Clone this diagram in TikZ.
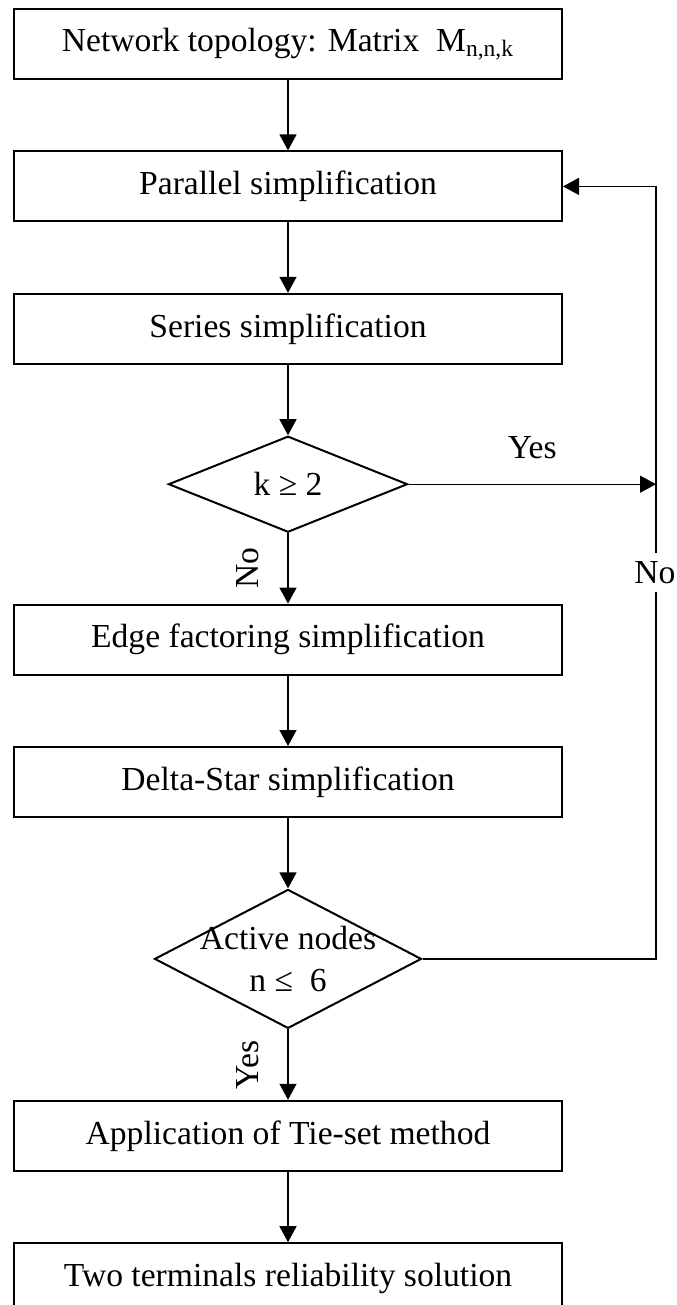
\documentclass[tikz,border=0pt]{standalone}
\usepackage{fontspec}
\setmainfont{Liberation Serif}
\usetikzlibrary{arrows.meta, positioning, shapes.geometric, calc}

\begin{document}
\begin{tikzpicture}[
    node distance=35.2pt,
    every node/.style={font=\fontsize{16.8}{21}\selectfont,align=center},
    proc/.style={draw,line width=1pt,minimum width=274pt,minimum height=35pt,inner sep=0pt},
    decide/.style={draw,diamond,line width=1pt,inner sep=0pt,aspect=2.5},
    flow/.style={line width=.65pt,-{Triangle[length=8pt,width=8.5pt]}}]
  \useasboundingbox (-144pt,22pt) rectangle (194pt,-630.5pt);
  \node[proc] (topo) {Network topology: Matrix\ \ M\textsubscript{n,n,k}};
  \node[proc,below=of topo] (par) {Parallel simplification};
  \node[proc,below=of par] (ser) {Series simplification};
  \node[decide,below=of ser,minimum width=119.5pt,minimum height=48pt] (kdec) {k ≥ 2};
  \node[proc,below=of kdec] (edge) {Edge factoring simplification};
  \node[proc,below=of edge] (delta) {Delta-Star simplification};
  \node[decide,below=of delta,minimum width=133.5pt,minimum height=69.5pt,
        label={center:Active nodes\\n ≤\ \ 6}] (ndec) {};
  \node[proc,below=of ndec] (tie) {Application of Tie-set method};
  \node[proc,below=of tie] (sol) {Two terminals reliability solution};
  \coordinate (back) at ($(par.east)+(46.5pt,0)$);
  \draw[flow] (topo) -- (par);
  \draw[flow] (par) -- (ser);
  \draw[flow] (ser) -- (kdec);
  \draw[flow] (kdec) -- (edge);
  \draw[flow] (edge) -- (delta);
  \draw[flow] (delta) -- (ndec);
  \draw[flow] (ndec) -- (tie);
  \draw[flow] (tie) -- (sol);
  \draw[flow] (kdec.east) -- node[midway,yshift=18.5pt] {Yes} (kdec.east -| back);
  \draw[flow] (ndec.east) -| node[pos=.75,fill=white,inner sep=4pt,xshift=-.5pt] {No} (back) -- (par.east);
  \node[rotate=90] (nolbl) at ($(kdec.south)!.5!(edge.north)+(-20pt,0)$) {No};
  \node[rotate=90] (yeslbl) at ($(ndec.south)!.5!(tie.north)+(-20pt,0)$) {Yes};
\end{tikzpicture}
\end{document}
